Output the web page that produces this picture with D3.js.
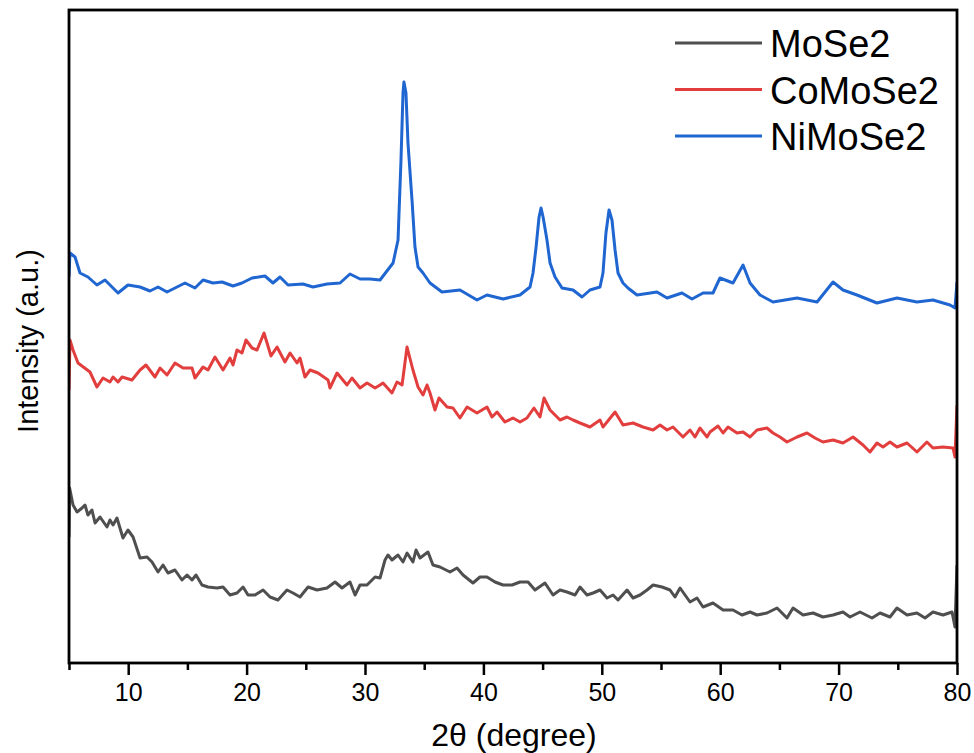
<!DOCTYPE html>
<html>
<head>
<meta charset="utf-8">
<script src="https://cdn.jsdelivr.net/npm/d3@7"></script>
<style>
  body { margin: 0; background: #fff; }
  svg text { font-family: 'Liberation Sans', Arial, sans-serif; fill: #000; }
</style>
</head>
<body>
<svg id="chart" width="974" height="753"></svg>
<script>
// [2theta, intensity] pairs (intensity in arbitrary units)
const moSe2 = [
  [5.0, 126], [5.05, 175], [5.34, 158], [5.68, 151], [6.10, 155], [6.35, 158], [6.60, 148], [6.94, 153],
  [7.20, 140], [7.62, 146], [8.21, 136], [8.46, 143], [8.72, 138], [9.05, 145], [9.56, 125], [9.98, 133],
  [10.41, 126], [11.00, 105], [11.59, 106], [12.01, 101], [12.52, 91], [12.94, 98], [13.36, 90], [13.95, 93],
  [14.54, 83], [14.97, 88], [15.39, 83], [15.73, 88], [16.23, 78], [16.74, 76], [17.50, 75], [18.01, 76],
  [18.60, 68], [19.19, 70], [19.70, 76], [20.12, 68], [20.71, 68], [21.39, 73], [21.98, 66], [22.65, 63],
  [23.41, 73], [23.92, 70], [24.51, 66], [25.19, 76], [25.95, 73], [26.79, 75], [27.47, 81], [28.06, 75],
  [28.73, 81], [29.16, 68], [29.58, 78], [30.17, 78], [30.85, 86], [31.27, 85], [31.69, 103], [31.94, 108],
  [32.28, 103], [32.79, 108], [33.21, 101], [33.55, 110], [34.05, 101], [34.31, 113], [34.65, 105], [35.32, 111],
  [35.74, 98], [36.33, 96], [37.18, 91], [37.77, 95], [38.28, 88], [39.12, 80], [39.71, 86], [40.30, 86],
  [40.98, 81], [41.66, 78], [42.42, 78], [43.09, 81], [43.77, 81], [44.36, 73], [45.20, 80], [45.88, 68],
  [46.47, 73], [47.06, 71], [47.74, 68], [48.16, 76], [48.75, 68], [49.26, 70], [49.85, 73], [50.44, 65],
  [50.95, 68], [51.37, 63], [52.13, 73], [52.64, 65], [53.23, 68], [53.82, 73], [54.33, 78], [55.09, 76],
  [55.76, 73], [56.18, 66], [56.61, 75], [57.45, 61], [58.04, 65], [58.55, 56], [59.39, 60], [60.24, 53],
  [61.08, 53], [61.84, 48], [62.52, 51], [63.11, 48], [63.95, 50], [64.80, 55], [65.64, 45], [66.15, 55],
  [67.00, 48], [67.84, 50], [68.68, 46], [69.53, 48], [70.37, 51], [70.96, 46], [71.81, 51], [72.82, 45],
  [73.50, 50], [74.34, 46], [74.93, 55], [75.78, 48], [76.62, 50], [77.30, 45], [77.97, 51], [78.82, 48],
  [79.58, 51], [79.83, 36], [80.0, 98]
]

const coMoSe2 = [
  [5.0, 273], [5.08, 323], [5.34, 313], [5.76, 300], [6.77, 291], [7.36, 276], [7.87, 285], [8.46, 281],
  [8.72, 286], [9.14, 281], [9.48, 286], [10.32, 283], [11.00, 293], [11.50, 298], [12.26, 286], [12.69, 295],
  [13.28, 288], [13.95, 300], [14.63, 295], [15.39, 295], [15.64, 285], [16.32, 296], [16.74, 293], [17.33, 306],
  [18.01, 293], [18.60, 305], [18.85, 298], [19.19, 313], [19.61, 310], [19.95, 323], [20.46, 315], [20.88, 313],
  [21.47, 330], [22.06, 307], [22.57, 316], [23.24, 301], [23.67, 310], [24.26, 300], [24.51, 305], [24.93, 286],
  [25.36, 293], [26.03, 290], [26.88, 283], [27.04, 275], [27.64, 290], [28.48, 278], [28.90, 285], [29.58, 275],
  [30.17, 280], [30.85, 275], [31.27, 278], [31.52, 280], [32.28, 270], [32.70, 281], [33.13, 278], [33.55, 316],
  [34.05, 293], [34.48, 276], [34.90, 268], [35.24, 278], [35.49, 270], [35.91, 253], [36.25, 265], [36.93, 256],
  [37.43, 255], [38.02, 245], [38.62, 256], [39.46, 250], [40.30, 256], [40.73, 246], [41.15, 251], [41.82, 241],
  [42.50, 245], [43.09, 241], [43.68, 245], [44.27, 255], [44.78, 246], [45.12, 265], [45.63, 253], [46.47, 243],
  [47.06, 246], [47.57, 243], [48.16, 240], [49.00, 236], [49.85, 243], [50.10, 236], [51.12, 251], [51.79, 238],
  [52.64, 240], [53.48, 236], [54.33, 233], [54.92, 238], [55.51, 233], [56.01, 236], [56.86, 226], [57.45, 233],
  [57.87, 226], [58.29, 235], [58.89, 226], [59.14, 231], [59.82, 237], [60.24, 230], [60.66, 236], [61.42, 230],
  [61.93, 231], [62.52, 226], [63.11, 233], [63.95, 235], [64.46, 230], [65.05, 226], [65.64, 221], [66.49, 226],
  [67.33, 230], [68.01, 225], [68.68, 221], [69.53, 223], [70.37, 220], [71.22, 226], [72.06, 218], [72.65, 211],
  [73.24, 220], [73.75, 216], [74.34, 221], [74.93, 216], [75.78, 220], [76.62, 211], [77.46, 221], [77.97, 215],
  [78.82, 216], [79.66, 215], [79.83, 206], [80.0, 258]
]

const niMoSe2 = [
  [5.0, 386], [5.08, 410], [5.51, 406], [5.93, 390], [6.60, 386], [7.36, 378], [8.04, 383], [9.14, 370],
  [9.98, 378], [11.00, 376], [11.84, 372], [12.52, 376], [13.28, 371], [14.12, 376], [14.80, 380], [15.64, 375],
  [16.32, 383], [17.16, 380], [17.93, 381], [18.85, 377], [19.61, 380], [20.46, 385], [21.55, 387], [22.23, 380],
  [22.82, 386], [23.50, 378], [24.76, 379], [25.61, 376], [26.79, 379], [27.89, 380], [28.73, 389], [29.58, 384],
  [30.42, 384], [31.27, 383], [32.11, 396], [32.37, 400], [32.79, 423], [33.04, 503], [33.21, 570], [33.29, 581],
  [33.46, 570], [33.63, 520], [33.97, 463], [34.22, 416], [34.48, 396], [34.90, 390], [35.49, 380], [36.50, 371],
  [38.02, 373], [39.46, 363], [40.30, 368], [41.66, 364], [43.09, 368], [43.94, 376], [44.19, 390], [44.45, 416],
  [44.70, 446], [44.87, 455], [45.04, 446], [45.37, 423], [45.63, 400], [46.05, 386], [46.64, 375], [47.57, 373],
  [48.33, 366], [49.00, 373], [49.85, 376], [50.10, 390], [50.35, 430], [50.61, 453], [50.86, 443], [51.12, 413],
  [51.37, 390], [51.79, 380], [52.21, 375], [52.97, 368], [54.66, 371], [55.51, 365], [56.77, 370], [57.62, 364],
  [58.55, 370], [59.39, 370], [59.98, 385], [61.08, 380], [61.93, 398], [62.52, 380], [63.36, 368], [64.46, 361],
  [66.49, 365], [68.18, 361], [69.53, 381], [70.37, 373], [71.55, 368], [73.24, 360], [74.93, 365], [76.62, 361],
  [77.97, 363], [79.41, 358], [79.83, 355], [80.0, 381]
]

const seriesNames = ['MoSe2', 'CoMoSe2', 'NiMoSe2']
const seriesColors = ['#4f4f4f', '#e23e3e', '#1f66d1']
const xTicks = [10, 20, 30, 40, 50, 60, 70, 80]
const xMinorTicks = [5, 15, 25, 35, 45, 55, 65, 75]

const svg = d3.select('#chart')
const m = { left: 69, right: 957, top: 10, bottom: 663 }

const x = d3.scaleLinear().domain([5, 80]).range([m.left, m.right])
const y = d3.scaleLinear().domain([0, 653]).range([m.bottom, m.top])

svg.append('clipPath').attr('id', 'plotClip')
  .append('rect')
  .attr('x', m.left).attr('y', m.top)
  .attr('width', m.right - m.left).attr('height', m.bottom - m.top)

const line = d3.line()
  .x(d => x(d[0]))
  .y(d => y(d[1]))

const plot = svg.append('g').attr('clip-path', 'url(#plotClip)')
;[moSe2, coMoSe2, niMoSe2].forEach((data, i) => {
  plot.append('path')
    .datum(data)
    .attr('fill', 'none')
    .attr('stroke', seriesColors[i])
    .attr('stroke-width', 3)
    .attr('stroke-linejoin', 'round')
    .attr('d', line)
})

// bottom axis: major and minor ticks
const xAxis = d3.axisBottom(x).tickValues(xTicks).tickSize(12).tickSizeOuter(0).tickPadding(8)
const gx = svg.append('g').attr('transform', `translate(0,${m.bottom})`).call(xAxis)
gx.select('.domain').remove()
gx.selectAll('.tick line').attr('stroke', '#000').attr('stroke-width', 2.5)
gx.selectAll('.tick text').attr('font-size', 25).attr('font-family', 'Liberation Sans, Arial, sans-serif')

const gMinor = svg.append('g').attr('transform', `translate(0,${m.bottom})`)
  .call(d3.axisBottom(x).tickValues(xMinorTicks).tickSize(7).tickFormat(''))
gMinor.select('.domain').remove()
gMinor.selectAll('.tick line').attr('stroke', '#000').attr('stroke-width', 2.5)

// frame
svg.append('rect')
  .attr('x', m.left).attr('y', m.top)
  .attr('width', m.right - m.left).attr('height', m.bottom - m.top)
  .attr('fill', 'none')
  .attr('stroke', '#000')
  .attr('stroke-width', 2.8)

// axis titles
svg.append('text')
  .attr('x', 514).attr('y', 746)
  .attr('text-anchor', 'middle')
  .attr('font-size', 32)
  .text('2θ (degree)')

svg.append('text')
  .attr('transform', 'translate(38,341) rotate(-90)')
  .attr('text-anchor', 'middle')
  .attr('font-size', 29)
  .text('Intensity (a.u.)')

// legend
const legend = svg.append('g')
seriesNames.forEach((name, i) => {
  const ly = 43 + i * 46.5
  legend.append('line')
    .attr('x1', 675).attr('x2', 762)
    .attr('y1', ly).attr('y2', ly)
    .attr('stroke', seriesColors[i])
    .attr('stroke-width', 3)
  legend.append('text')
    .attr('x', 770).attr('y', ly + 14)
    .attr('font-size', 38)
    .text(name)
})
</script>
</body>
</html>
